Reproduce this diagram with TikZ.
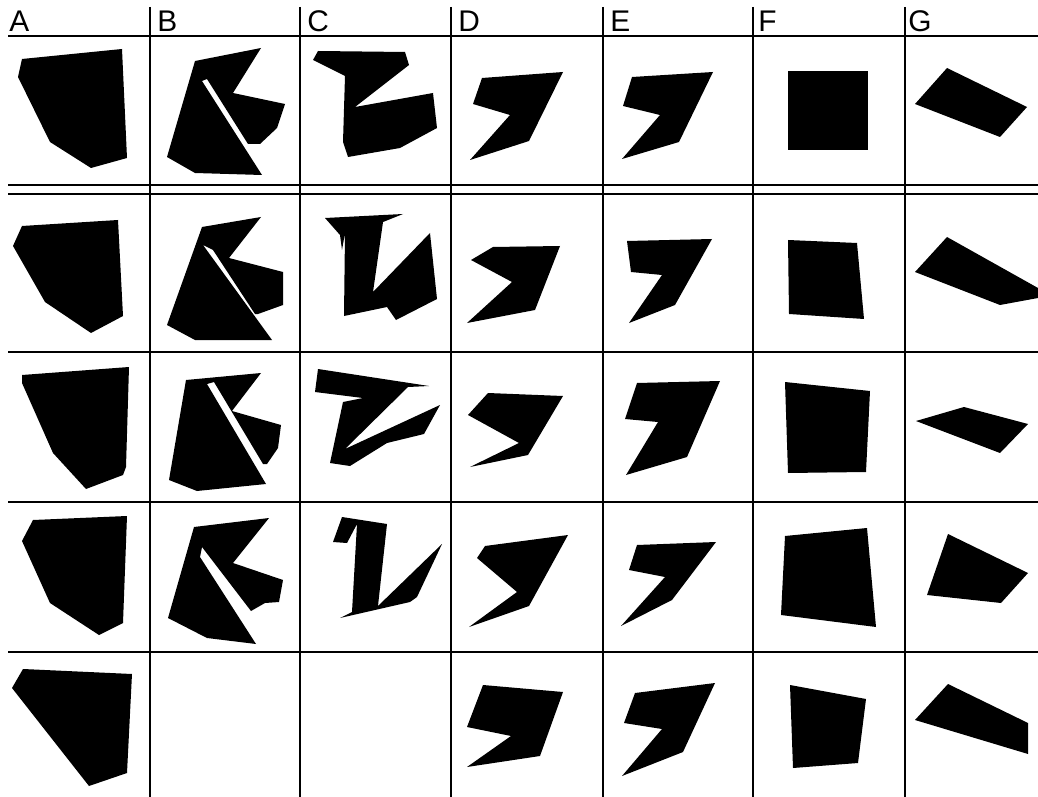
\documentclass[tikz,border=0pt]{standalone}
\usepackage{fontspec}
\setmainfont{Liberation Sans}

\tikzset{
  gridline/.style={line width=0.8pt,black},
  piece/.style={fill=black},
  collabel/.style={anchor=base west,inner sep=0pt,font=\fontsize{17}{20}\selectfont}
}

\begin{document}
\begin{tikzpicture}[x=0.02cm,y=-0.02cm]
\useasboundingbox (0,0) rectangle (1038,797);
\foreach \x/\lbl in {9/A,157/B,307/C,458/D,610/E,758/F,908/G} {
  \node[collabel] (lbl\lbl) at (\x,32) {\lbl};
}
\foreach \y in {36,185,194,352,502,652} {
  \draw[gridline] (8,\y) -- (1038,\y);
}
\foreach \x in {150,300,451,603,753,905} {
  \draw[gridline] (\x,7) -- (\x,797);
}
% column A
\fill[piece] (22,59) -- (122,49) -- (127,158) -- (91,168) -- (50,142) -- (18,77) -- cycle;
\fill[piece] (22,226) -- (118,220) -- (123,316) -- (91,333) -- (45,302) -- (13,246) -- cycle;
\fill[piece] (22,375) -- (129,367) -- (126,467) -- (123,475) -- (86,489) -- (53,453) -- (22,383) -- cycle;
\fill[piece] (33,520) -- (127,516) -- (123,623) -- (99,635) -- (50,603) -- (22,541) -- cycle;
\fill[piece] (23,669) -- (132,674) -- (127,773) -- (89,786) -- (12,688) -- cycle;
% column B
\fill[piece] (195,61) -- (261,48) -- (233,93) -- (285,104) -- (277,128) -- (260,144) -- (248,144) -- (207,79) -- (202,81) -- (262,175) -- (195,173) -- (167,157) -- cycle;
\fill[piece] (202,227) -- (261,217) -- (229,258) -- (283,272) -- (283,305) -- (258,314) -- (255,314) -- (213,250) -- (203,245) -- (272,340) -- (195,340) -- (167,325) -- cycle;
\fill[piece] (186,380) -- (261,373) -- (232,411) -- (281,425) -- (278,448) -- (267,464) -- (263,464) -- (214,382) -- (207,384) -- (266,484) -- (197,491) -- (169,480) -- cycle;
\fill[piece] (194,527) -- (269,518) -- (233,563) -- (283,580) -- (279,602) -- (265,603) -- (251,611) -- (202,547) -- (200,557) -- (256,644) -- (207,638) -- (168,618) -- cycle;
% column C
\fill[piece] (318,51) -- (405,52) -- (409,65) -- (355,107) -- (433,93) -- (437,128) -- (400,148) -- (348,157) -- (343,142) -- (345,76) -- (313,60) -- cycle;
\fill[piece] (325,218) -- (403,214) -- (383,222) -- (373,292) -- (430,233) -- (437,299) -- (396,320) -- (387,307) -- (344,316) -- (345,233) -- (342,250) -- (340,235) -- cycle;
\fill[piece] (318,369) -- (429,386) -- (408,387) -- (345,449) -- (440,405) -- (424,434) -- (387,443) -- (350,466) -- (330,463) -- (343,402) -- (363,398) -- (315,392) -- cycle;
\fill[piece] (342,517) -- (387,524) -- (378,606) -- (442,544) -- (417,597) -- (410,602) -- (340,618) -- (352,612) -- (357,524) -- (347,543) -- (333,542) -- cycle;
% column D
\fill[piece] (482,78) -- (563,72) -- (529,141) -- (470,160) -- (510,115) -- (473,104) -- cycle;
\fill[piece] (493,247) -- (560,246) -- (535,310) -- (467,323) -- (512,282) -- (471,260) -- cycle;
\fill[piece] (488,393) -- (563,396) -- (528,455) -- (470,467) -- (519,443) -- (468,415) -- cycle;
\fill[piece] (485,546) -- (568,535) -- (529,606) -- (469,627) -- (517,592) -- (477,558) -- cycle;
\fill[piece] (483,685) -- (563,692) -- (540,756) -- (467,767) -- (511,736) -- (467,727) -- cycle;
% column E
\fill[piece] (632,77) -- (713,72) -- (679,142) -- (622,159) -- (660,115) -- (623,106) -- cycle;
\fill[piece] (627,241) -- (712,239) -- (675,305) -- (629,323) -- (662,275) -- (631,272) -- cycle;
\fill[piece] (637,383) -- (720,381) -- (687,457) -- (626,475) -- (658,422) -- (625,419) -- cycle;
\fill[piece] (637,545) -- (716,542) -- (672,600) -- (621,626) -- (665,577) -- (629,570) -- cycle;
\fill[piece] (635,693) -- (715,683) -- (683,752) -- (622,776) -- (662,729) -- (624,723) -- cycle;
% column F
\fill[piece] (788,71) -- (868,71) -- (868,150) -- (788,150) -- cycle;
\fill[piece] (788,240) -- (857,243) -- (864,319) -- (789,314) -- cycle;
\fill[piece] (785,382) -- (870,391) -- (866,472) -- (788,473) -- cycle;
\fill[piece] (785,536) -- (867,528) -- (876,627) -- (781,615) -- cycle;
\fill[piece] (790,685) -- (866,699) -- (858,763) -- (793,768) -- cycle;
% column G
\fill[piece] (947,68) -- (1027,107) -- (1000,137) -- (915,104) -- cycle;
\fill[piece] (947,237) -- (1038,288) -- (1038,298) -- (1000,305) -- (915,272) -- cycle;
\fill[piece] (916,421) -- (964,407) -- (1028,424) -- (1000,453) -- cycle;
\fill[piece] (948,534) -- (1028,573) -- (1001,603) -- (927,595) -- cycle;
\fill[piece] (948,684) -- (1028,723) -- (1028,754) -- (915,720) -- cycle;
\end{tikzpicture}
\end{document}
